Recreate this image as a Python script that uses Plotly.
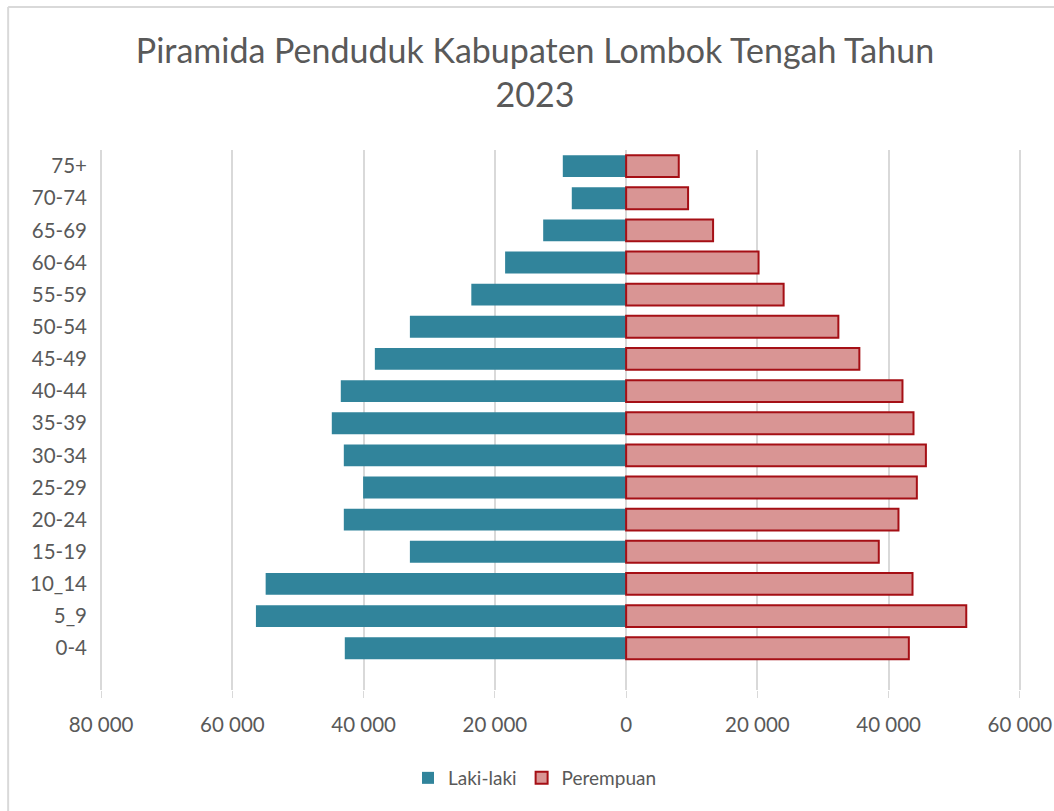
import plotly.graph_objects as go

categories = ["0-4", "5_9", "10_14", "15-19", "20-24", "25-29", "30-34", "35-39",
              "40-44", "45-49", "50-54", "55-59", "60-64", "65-69", "70-74", "75+"]
laki = [42870, 56410, 54930, 32950, 43020, 40080, 43020, 44850,
        43480, 38290, 32950, 23590, 18440, 12640, 8280, 9650]
perempuan = [43080, 51830, 43640, 38500, 41500, 44300, 45680, 43790,
             42110, 35540, 32340, 24000, 20180, 13250, 9440, 8020]
tick_vals = [-80000, -60000, -40000, -20000, 0, 20000, 40000, 60000]
tick_text = ["80 000", "60 000", "40 000", "20 000", "0", "20 000", "40 000", "60 000"]

FONT = "Lato"
GRAY = "#595959"

fig = go.Figure()
fig.add_trace(go.Bar(
    y=categories, x=[-v for v in laki], orientation="h", name="Laki-laki",
    marker=dict(color="#31849B", line=dict(width=0)),
    customdata=laki, hovertemplate="%{y}: %{customdata}<extra>Laki-laki</extra>",
))
fig.add_trace(go.Bar(
    y=categories, x=perempuan, orientation="h", name="Perempuan",
    marker=dict(color="#D99594", line=dict(color="#A50F15", width=2)),
    hovertemplate="%{y}: %{x}<extra>Perempuan</extra>",
))

W, H = 1054, 811
# -80000 -> x=101 px, 60000 -> x=1020 px; range padded so edge gridlines draw
k = (1020 - 101) / 140000.0
PAD = 2000
L = 101 - PAD * k
R = 1020 + PAD * k
T, B = 150, 690

def px_x(p):
    return (p - L) / (R - L)

def px_y(p):
    return (B - p) / (B - T)

fig.update_layout(
    width=W, height=H,
    margin=dict(l=L, r=W - R, t=T, b=H - B, pad=0, autoexpand=False),
    barmode="relative", bargap=0.32,
    paper_bgcolor="white", plot_bgcolor="white",
    font=dict(family=FONT, color=GRAY, size=20),
    title=dict(
        text="Piramida Penduduk Kabupaten Lombok Tengah Tahun<br>2023",
        x=535 / W, xanchor="center", y=1 - 63 / H, yanchor="middle",
        font=dict(family=FONT, size=34, color=GRAY),
    ),
    xaxis=dict(
        range=[-80000 - PAD, 60000 + PAD], tickvals=tick_vals, ticktext=tick_text,
        showgrid=True, gridcolor="#D9D9D9", gridwidth=1.5, zeroline=False,
        ticks="outside", ticklen=7, tickcolor="#D9D9D9", tickwidth=1,
        tickfont=dict(size=20.5, color=GRAY), showline=False,
        ticklabelstandoff=9, automargin=False,
    ),
    yaxis=dict(
        range=[-1.3, 15.5], showgrid=False, zeroline=False, showline=False,
        tickfont=dict(size=20.5, color=GRAY), ticks="", ticklabelstandoff=0,
        automargin=False,
    ),
    legend=dict(
        orientation="h", x=px_x(535), xanchor="center", y=px_y(778), yanchor="middle",
        font=dict(size=19, color=GRAY), itemwidth=30, traceorder="normal",
        tracegroupgap=0,
    ),
    shapes=[
        dict(type="line", xref="paper", yref="paper",
             x0=px_x(8), x1=px_x(1060), y0=px_y(7), y1=px_y(7),
             line=dict(color="#D9D9D9", width=2), layer="below"),
        dict(type="line", xref="paper", yref="paper",
             x0=px_x(8), x1=px_x(8), y0=px_y(7), y1=px_y(820),
             line=dict(color="#D9D9D9", width=2), layer="below"),
    ],
)

fig.write_html(
    "out.html",
    config={"displayModeBar": False},
    post_script="document.body.style.margin='0';document.body.style.overflow='hidden';",
)
